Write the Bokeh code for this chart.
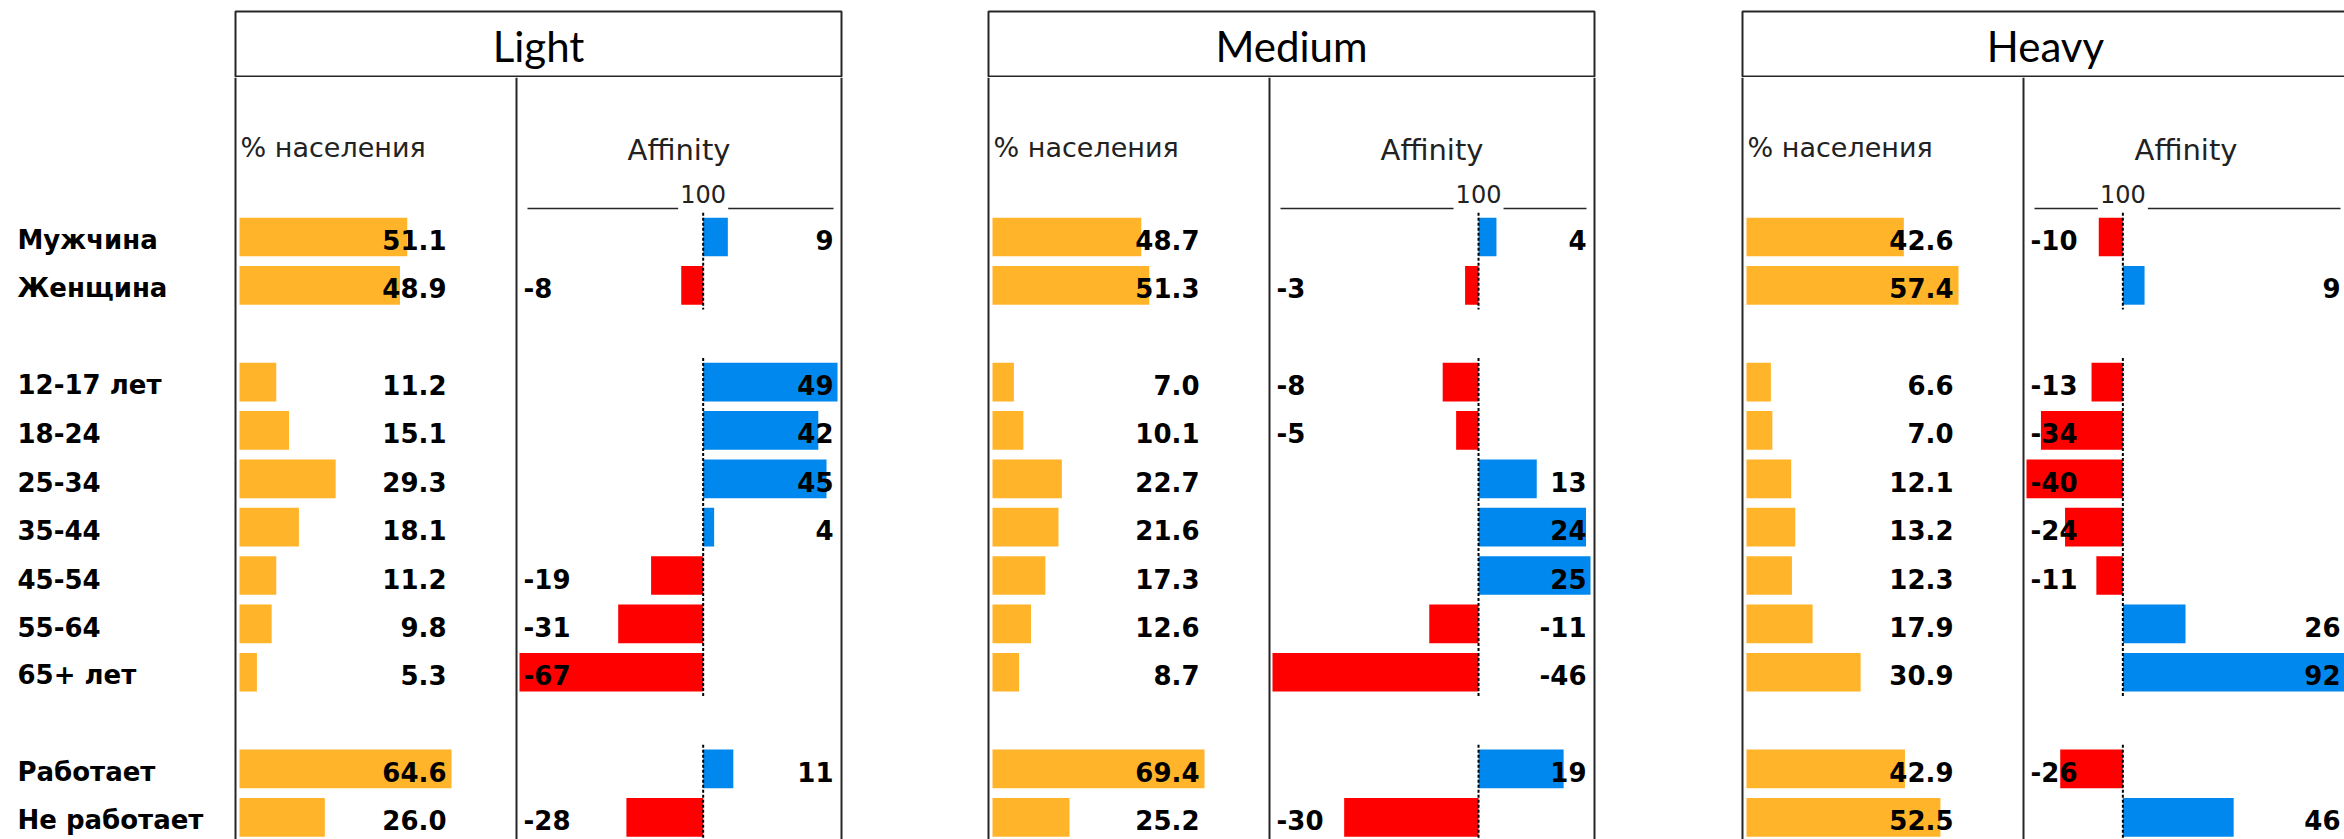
from bokeh.plotting import figure
from bokeh.layouts import row, column
from bokeh.models import Range1d, Spacer, ColumnDataSource
from bokeh.core.properties import value
from bokeh.embed import file_html
from bokeh.resources import INLINE

# ---------------- data ----------------
categories = ["Мужчина", "Женщина", "12-17 лет", "18-24", "25-34", "35-44",
              "45-54", "55-64", "65+ лет", "Работает", "Не работает"]
group_sizes = [2, 7, 2]

panel_names = ["Light", "Medium", "Heavy"]
light_pct = [51.1, 48.9, 11.2, 15.1, 29.3, 18.1, 11.2, 9.8, 5.3, 64.6, 26.0]
light_aff = [9, -8, 49, 42, 45, 4, -19, -31, -67, 11, -28]
medium_pct = [48.7, 51.3, 7.0, 10.1, 22.7, 21.6, 17.3, 12.6, 8.7, 69.4, 25.2]
medium_aff = [4, -3, -8, -5, 13, 24, 25, -11, -46, 19, -30]
heavy_pct = [42.6, 57.4, 6.6, 7.0, 12.1, 13.2, 12.3, 17.9, 30.9, 42.9, 52.5]
heavy_aff = [-10, 9, -13, -34, -40, -24, -11, 26, 92, -26, 46]

pct_title = "% населения"
aff_title = "Affinity"
aff_base_label = "100"
labels_right_override = {"Medium": ["55-64", "65+ лет"]}

# ---------------- styles / layout ----------------
ORANGE = "#FFB42A"
BLUE = "#0088EE"
RED = "#FF0000"
LINE = "#262626"
BOLD_FONT = value("DejaVu Sans")
THIN_FONT = value("DejaVu Sans")
HEAD_FONT = value("Lato")

PAGE_W, PAGE_H = 2344, 839
HEADER_H = 77
BODY_H = PAGE_H - HEADER_H
ROW0 = 236.5      # page y of first row centre
ROWH = 48.36      # row pitch in px
LABEL_W = 233
PANEL_W = 611
PCT_W = 285
AFF_W = 326
SPACERS = [142, 143]
PCT_BAR_PX = 212   # longest % bar length
AFF_SPAN_PX = 318  # px between min and max affinity bar ends

panel_pct = {"Light": light_pct, "Medium": medium_pct, "Heavy": heavy_pct}
panel_aff = {"Light": light_aff, "Medium": medium_aff, "Heavy": heavy_aff}

rows, groups, pos = [], [], 0
for size in group_sizes:
    groups.append((pos, pos + size - 1))
    rows.extend(range(pos, pos + size))
    pos += size + 1


def row_range(top_px, bottom_px):
    return Range1d(start=(bottom_px - ROW0) / ROWH, end=(top_px - ROW0) / ROWH)


def ypx(page_y):
    return (page_y - ROW0) / ROWH


def blank_fig(w, h, xr, yr):
    p = figure(width=w, height=h, x_range=xr, y_range=yr, output_backend="svg",
               toolbar_location=None, min_border=0,
               x_axis_location=None, y_axis_location=None)
    p.outline_line_color = None
    p.grid.visible = False
    p.background_fill_color = "white"
    p.border_fill_color = "white"
    return p


# ---------------- row labels ----------------
label_fig = blank_fig(LABEL_W, PAGE_H, Range1d(0, LABEL_W), row_range(0, PAGE_H))
label_fig.text(x=0, y=rows, text=categories, x_offset=17, y_offset=3,
               text_font=BOLD_FONT, text_font_style="bold", text_font_size="26px",
               text_align="left", text_baseline="middle", text_color="black")

# ---------------- panels ----------------
panel_layouts = []
page_left = LABEL_W
for k, name in enumerate(panel_names):
    pct = panel_pct[name]
    aff = panel_aff[name]
    avail = PAGE_W - page_left
    head_w = min(PANEL_W, avail)
    aff_w = min(AFF_W, avail - PCT_W)

    # header box
    hdr = blank_fig(head_w, HEADER_H, Range1d(0, head_w), Range1d(HEADER_H, 0))
    hdr.quad(left=2, right=PANEL_W - 3, top=11, bottom=76, fill_color=None,
             line_color=LINE, line_width=2)
    hdr.text(x=[(PANEL_W - 1) / 2], y=[45], text=[name], text_font=HEAD_FONT,
             text_font_size="42px", text_align="center", text_baseline="middle",
             text_color="black")

    # % population bars
    s = PCT_BAR_PX / max(pct)
    xs = -6 / s
    pf = blank_fig(PCT_W, BODY_H, Range1d(xs, xs + PCT_W / s), row_range(HEADER_H, PAGE_H))
    pf.vspan(x=[xs + 2 / s, xs + 283 / s], line_color=LINE, line_width=2)
    pf.hbar(y=rows, left=0, right=pct, height=0.8, fill_color=ORANGE, line_color=None)
    pf.text(x=0, y=rows, text=[f"{v:.1f}" for v in pct], x_offset=207, y_offset=3,
            text_font=BOLD_FONT, text_font_style="bold", text_font_size="26px",
            text_align="right", text_baseline="middle", text_color="black")
    pf.text(x=[xs + 7 / s], y=[ypx(147)], text=[pct_title], text_font=THIN_FONT,
            text_font_size="27px", text_align="left", text_baseline="middle",
            text_color="#222222")

    # affinity bars
    lo, hi = min(aff), max(aff)
    sa = AFF_SPAN_PX / (hi - lo)
    xa = lo - 1 / sa
    af = blank_fig(aff_w, BODY_H, Range1d(xa, xa + aff_w / sa), row_range(HEADER_H, PAGE_H))
    if 323 < aff_w:
        af.vspan(x=[xa + 323 / sa], line_color=LINE, line_width=2)
    colors = [BLUE if v >= 0 else RED for v in aff]
    af.hbar(y=rows, left=0, right=aff, height=0.8, fill_color=colors, line_color=None)
    af.segment(x0=[0] * len(groups), x1=[0] * len(groups),
               y0=[g[0] - 0.5 for g in groups], y1=[g[1] + 0.5 for g in groups],
               line_color="black", line_width=2, line_dash="3 2")
    # top baseline axis with "100" label
    y_axis_line = ypx(208)
    right_end = xa + min(315, aff_w) / sa
    af.segment(x0=[xa + 9 / sa, 25 / sa], x1=[-25 / sa, right_end],
               y0=[y_axis_line] * 2, y1=[y_axis_line] * 2,
               line_color=LINE, line_width=1.5)
    af.text(x=[0], y=[ypx(193)], text=[aff_base_label], text_font=THIN_FONT,
            text_font_size="24px", text_align="center", text_baseline="middle",
            text_color="#222222")
    af.text(x=[xa + 160.5 / sa], y=[ypx(149)], text=[aff_title], text_font=THIN_FONT,
            text_font_size="29px", text_align="center", text_baseline="middle",
            text_color="#222222")

    overrides = labels_right_override.get(name, [])
    right_px = min(315, aff_w - 3)
    left_src = dict(y=[], text=[])
    right_src = dict(y=[], text=[])
    for cat, r, v in zip(categories, rows, aff):
        tgt = right_src if (v >= 0 or cat in overrides) else left_src
        tgt["y"].append(r)
        tgt["text"].append(str(v))
    af.text(x=xa, y="y", text="text", source=ColumnDataSource(left_src), x_offset=5,
            y_offset=3, text_font=BOLD_FONT, text_font_style="bold",
            text_font_size="26px", text_align="left", text_baseline="middle",
            text_color="black")
    af.text(x=xa, y="y", text="text", source=ColumnDataSource(right_src),
            x_offset=right_px, y_offset=3, text_font=BOLD_FONT, text_font_style="bold",
            text_font_size="26px", text_align="right", text_baseline="middle",
            text_color="black")

    panel_layouts.append(column(hdr, row(pf, af)))
    page_left += head_w
    if k < len(SPACERS):
        panel_layouts.append(Spacer(width=SPACERS[k], height=PAGE_H))
        page_left += SPACERS[k]

layout = row(label_fig, *panel_layouts)

open("out.html", "w").write(file_html(layout, INLINE))
